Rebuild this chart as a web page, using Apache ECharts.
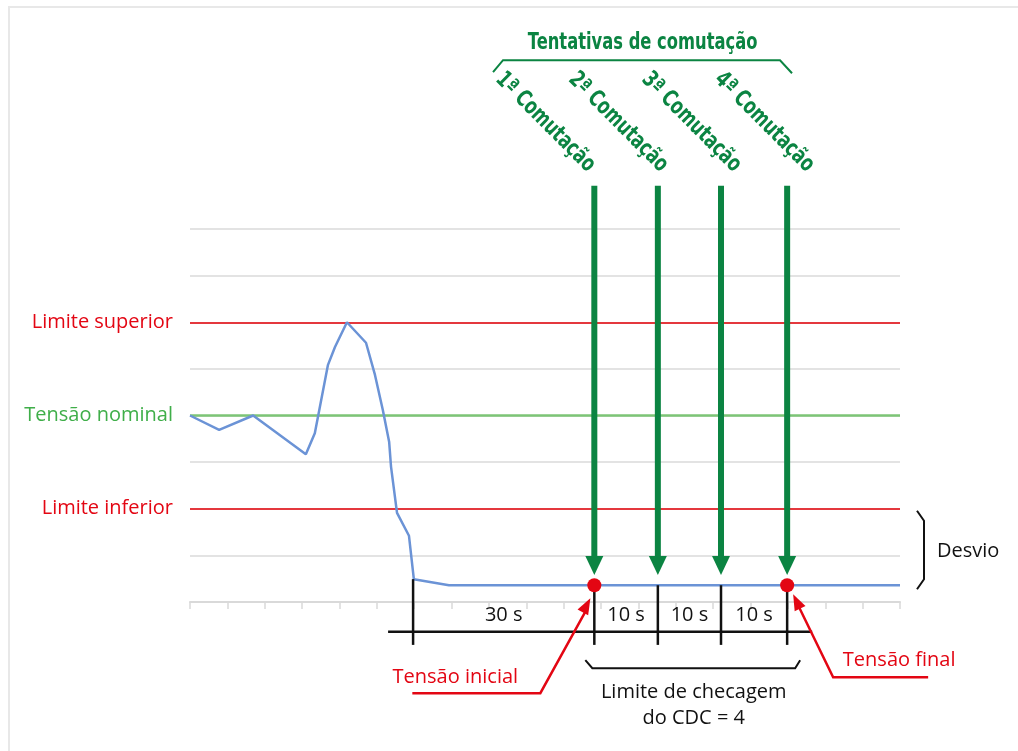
<!DOCTYPE html>
<html>
<head>
<meta charset="utf-8">
<script src="https://cdn.jsdelivr.net/npm/echarts@6/dist/echarts.min.js"></script>
<style>
    html, body { margin: 0; padding: 0; background: #fff; }
    #moldura { position: absolute; left: 8px; top: 6px; right: 0; bottom: 0; border-left: 2px solid #e8e8e8; border-top: 2px solid #e8e8e8; }
    #chart { position: absolute; left: 0; top: 0; width: 1018px; height: 751px; }
</style>
</head>
<body>
<div id="moldura"></div>
<div id="chart"></div>
<script>
// tempo (divisões do eixo x) e tensão medida (divisões do eixo y)
var tempo  = [0, 0.78, 1.69, 3.10, 3.34, 3.69, 3.88, 4.20, 4.71, 4.95, 5.16, 5.33, 5.38, 5.54, 5.86, 5.99, 6.93, 19];
var tensao = [4, 3.69, 4, 3.17, 3.62, 5.08, 5.47, 6, 5.56, 4.87, 4.12, 3.43, 2.90, 1.91, 1.42, 0.49, 0.36, 0.36];

var limiteInferior = 2;
var tensaoNominal = 4;
var limiteSuperior = 6;

// tentativas de comutação
var comutacoes = ['1ª Comutação', '2ª Comutação', '3ª Comutação', '4ª Comutação'];
var comutacaoX = [10.82, 12.52, 14.21, 15.98];
var rotuloX = [8.27, 10.22, 12.18, 14.13];

// linha do tempo
var marcosX = [5.97, 10.82, 12.52, 14.21, 15.98];
var marcosTopo = [0.49, 0.36, 0.36, 0.36, 0.36];
var intervalos = ['30 s', '10 s', '10 s', '10 s'];

var tensaoInicial = [10.82, 0.36];
var tensaoFinal = [15.98, 0.36];

var verde = '#0b8442';
var vermelho = '#e30613';
var preto = '#111';
var fonte = '"Open Sans", sans-serif';
var fonteEstreita = '"DejaVu Sans", sans-serif';

var myChart = echarts.init(document.getElementById('chart'));

function seta(de, ate, cor) {
    var dx = ate[0] - de[0], dy = ate[1] - de[1];
    var len = Math.sqrt(dx * dx + dy * dy);
    var ux = dx / len, uy = dy / len;
    var b = [ate[0] - ux * 16, ate[1] - uy * 16];
    return {
        type: 'polygon',
        shape: { points: [ate, [b[0] - uy * 6, b[1] + ux * 6], [b[0] + uy * 6, b[1] - ux * 6]] },
        style: { fill: cor }
    };
}

function texto(x, y, t, cor, font, align, rot, sx) {
    return {
        type: 'text', x: x, y: y, rotation: rot || 0, scaleX: sx || 1,
        style: { text: t, fill: cor, font: font, align: align || 'center', verticalAlign: 'middle',
                 textAlign: align || 'center', textVerticalAlign: 'middle' }
    };
}

var option = {
    animation: false,
    grid: { left: 190, right: 118, top: 229, bottom: 149 },
    xAxis: {
        type: 'value', min: 0, max: 19, interval: 1,
        axisLine: { lineStyle: { color: '#d9d9d9', width: 2 } },
        axisTick: { show: true, length: 7, lineStyle: { color: '#d9d9d9', width: 1.5 } },
        axisLabel: { show: false },
        splitLine: { show: false }
    },
    yAxis: {
        type: 'value', min: 0, max: 8, interval: 1,
        axisLine: { show: false },
        axisTick: { show: false },
        splitLine: { lineStyle: { color: '#e3e3e3', width: 2 } },
        axisLabel: {
            margin: 17,
            fontFamily: fonte,
            fontSize: 20,
            formatter: function (v) {
                if (v === limiteSuperior) return '{r|Limite superior}';
                if (v === tensaoNominal) return '{g|Tensão nominal}';
                if (v === limiteInferior) return '{r|Limite inferior}';
                return '';
            },
            rich: {
                r: { color: vermelho, fontFamily: fonte, fontSize: 20 },
                g: { color: '#3fae49', fontFamily: fonte, fontSize: 20 }
            }
        }
    },
    series: [
        {
            type: 'line',
            data: tempo.map(function (t, i) { return [t, tensao[i]]; }),
            symbol: 'none',
            z: 3,
            lineStyle: { color: '#6b93d6', width: 2.5 },
            markLine: {
                silent: true,
                symbol: 'none',
                label: { show: false },
                z: 2,
                data: [
                    { yAxis: limiteSuperior, lineStyle: { color: '#e4383d', width: 2, type: 'solid' } },
                    { yAxis: tensaoNominal, lineStyle: { color: '#7cc576', width: 2.5, type: 'solid' } },
                    { yAxis: limiteInferior, lineStyle: { color: '#e4383d', width: 2, type: 'solid' } }
                ]
            }
        },
        // linha do tempo preta
        {
            type: 'custom',
            z: 4,
            data: marcosX.map(function (x, i) { return [x, marcosTopo[i], i]; }),
            renderItem: function (params, api) {
                var i = api.value(2);
                var topo = api.coord([api.value(0), api.value(1)]);
                var fundo = api.coord([api.value(0), -0.92]);
                var filhos = [{
                    type: 'line',
                    shape: { x1: topo[0], y1: topo[1], x2: fundo[0], y2: fundo[1] },
                    style: { stroke: preto, lineWidth: 2.5 }
                }];
                if (i === 0) {
                    var a = api.coord([marcosX[0], -0.64]);
                    var b = api.coord([marcosX[marcosX.length - 1], -0.64]);
                    filhos.push({
                        type: 'line',
                        shape: { x1: a[0] - 25, y1: a[1], x2: b[0] + 25, y2: b[1] },
                        style: { stroke: preto, lineWidth: 2.5 }
                    });
                }
                if (i < intervalos.length) {
                    var m = api.coord([(marcosX[i] + marcosX[i + 1]) / 2, -0.28]);
                    filhos.push(texto(m[0], m[1], intervalos[i], preto, '20px ' + fonte));
                }
                return { type: 'group', children: filhos };
            }
        },
        // setas verdes
        {
            type: 'custom',
            z: 5,
            data: comutacaoX.map(function (x, i) { return [x, rotuloX[i], i]; }),
            renderItem: function (params, api) {
                var i = api.value(2);
                var topo = api.coord([api.value(0), 8.93]);
                var ponta = api.coord([api.value(0), 0.58]);
                var base = ponta[1] - 19;
                var r = api.coord([api.value(1), 11.28]);
                return {
                    type: 'group',
                    children: [
                        { type: 'line', shape: { x1: topo[0], y1: topo[1], x2: topo[0], y2: base + 1 },
                          style: { stroke: verde, lineWidth: 6 } },
                        { type: 'polygon', shape: { points: [[topo[0] - 9, base], [topo[0] + 9, base], [ponta[0], ponta[1]]] },
                          style: { fill: verde } },
                        texto(r[0], r[1], comutacoes[i], verde, 'bold 23px ' + fonteEstreita, 'left', -Math.PI / 4, 0.72)
                    ]
                };
            }
        },
        // título e chave das tentativas
        {
            type: 'custom',
            z: 5,
            data: [[rotuloX[0], rotuloX[rotuloX.length - 1]]],
            renderItem: function (params, api) {
                var a = api.coord([api.value(0), 11.62]);
                var b = api.coord([api.value(1), 11.62]);
                var esq = a[0] - 6, dir = b[0] + 74;
                return {
                    type: 'group',
                    children: [
                        { type: 'polyline', shape: { points: [[esq, a[1] + 12], [esq + 10, a[1]], [dir - 12, a[1]], [dir, a[1] + 13]] },
                          style: { stroke: verde, lineWidth: 2, fill: null } },
                        texto((esq + dir) / 2, a[1] - 17, 'Tentativas de comutação', verde, 'bold 23px ' + fonteEstreita, 'center', 0, 0.71)
                    ]
                };
            }
        },
        // limite de checagem, tensões inicial e final, desvio
        {
            type: 'custom',
            z: 6,
            data: [[tensaoInicial[0], tensaoInicial[1], tensaoFinal[0], tensaoFinal[1]]],
            renderItem: function (params, api) {
                var pi = api.coord([api.value(0), api.value(1)]);
                var pf = api.coord([api.value(2), api.value(3)]);
                var yc = api.coord([0, -1.42])[1];
                var d1 = api.coord([19, limiteInferior]);
                var d2 = api.coord([19, api.value(3)]);
                var xd = d1[0] + 24;
                var cx = (pi[0] + pf[0]) / 2;
                var ini = [pi[0] - 4, pi[1] + 13];
                var fim = [pf[0] + 6, pf[1] + 9];
                return {
                    type: 'group',
                    children: [
                        { type: 'polyline', shape: { points: [[pi[0] - 9, yc - 8], [pi[0] - 2, yc], [pf[0] + 8, yc], [pf[0] + 13, yc - 8]] },
                          style: { stroke: preto, lineWidth: 2, fill: null } },
                        texto(cx + 3, yc + 24, 'Limite de checagem', preto, '20px ' + fonte),
                        texto(cx + 3, yc + 50, 'do CDC = 4', preto, '20px ' + fonte),
                        { type: 'polyline', shape: { points: [[pi[0] - 182, pi[1] + 108], [pi[0] - 54, pi[1] + 108], [ini[0] - 3, ini[1] + 10]] },
                          style: { stroke: vermelho, lineWidth: 2.5, fill: null } },
                        seta([pi[0] - 54, pi[1] + 108], ini, vermelho),
                        texto(pi[0] - 139, pi[1] + 92, 'Tensão inicial', vermelho, '20px ' + fonte),
                        { type: 'polyline', shape: { points: [[pf[0] + 141, pf[1] + 92], [pf[0] + 46, pf[1] + 92], [fim[0] + 4, fim[1] + 9]] },
                          style: { stroke: vermelho, lineWidth: 2.5, fill: null } },
                        seta([pf[0] + 46, pf[1] + 92], fim, vermelho),
                        texto(pf[0] + 112, pf[1] + 75, 'Tensão final', vermelho, '20px ' + fonte),
                        { type: 'polyline', shape: { points: [[xd - 7, d1[1] + 2], [xd, d1[1] + 12], [xd, d2[1] - 6], [xd - 7, d2[1] + 4]] },
                          style: { stroke: preto, lineWidth: 2, fill: null } },
                        texto(xd + 13, (d1[1] + d2[1]) / 2 + 4, 'Desvio', preto, '20px ' + fonte, 'left')
                    ]
                };
            }
        },
        // pontos de tensão inicial e final
        {
            type: 'scatter',
            z: 7,
            symbolSize: 14,
            itemStyle: { color: vermelho, opacity: 1 },
            data: [tensaoInicial, tensaoFinal]
        }
    ]
};
myChart.setOption(option);
</script>
</body>
</html>
